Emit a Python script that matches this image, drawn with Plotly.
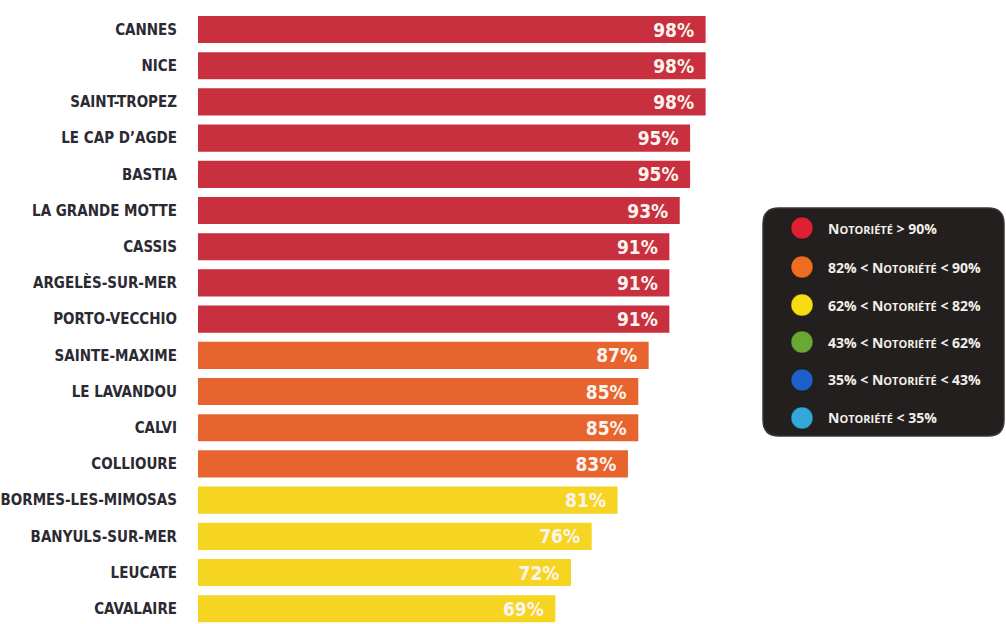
import plotly.graph_objects as go

# Notoriété des stations balnéaires
villes = ["CANNES", "NICE", "SAINT-TROPEZ", "LE CAP D’AGDE", "BASTIA", "LA GRANDE MOTTE",
          "CASSIS", "ARGELÈS-SUR-MER", "PORTO-VECCHIO", "SAINTE-MAXIME", "LE LAVANDOU",
          "CALVI", "COLLIOURE", "BORMES-LES-MIMOSAS", "BANYULS-SUR-MER", "LEUCATE", "CAVALAIRE"]
notoriete = [98, 98, 98, 95, 95, 93, 91, 91, 91, 87, 85, 85, 83, 81, 76, 72, 69]

SC = "<span style='font-size:11px'>OTORIÉTÉ</span>"
classes = [f"N{SC} > 90%",
           f"82% < N{SC} < 90%",
           f"62% < N{SC} < 82%",
           f"43% < N{SC} < 62%",
           f"35% < N{SC} < 43%",
           f"N{SC} < 35%"]
seuils = [90, 82, 62, 43, 35, 0]
couleurs_barres = ["#c8303f", "#e8642e", "#f6d422", "#6aa832", "#2064c6", "#36a9d6"]
couleurs_legende = ["#dc2232", "#ef6d22", "#f7dc12", "#6aa834", "#1e5fc8", "#33a8d8"]


def couleur(v):
    for s, c in zip(seuils, couleurs_barres):
        if v > s:
            return c
    return couleurs_barres[-1]


W, H = 1006, 624
ML = 198
PW = W - ML
PX_PER_PCT = 5.18
PITCH = 36.2
FIRST = 29.5
COND = "DejaVu Sans Condensed, DejaVu Sans, sans-serif"


def px(x):
    return (x - ML) / PW


def py(y):
    return 1 - y / H


fig = go.Figure()
fig.add_trace(go.Bar(
    x=notoriete, y=villes, orientation="h",
    marker=dict(color=[couleur(v) for v in notoriete], line=dict(width=0)),
    width=0.75,
    text=[f"{v}%\u2002" for v in notoriete],
    textposition="inside", insidetextanchor="end",
    textfont=dict(family=COND, size=19, color="#fbf4ee", weight="bold"),
    constraintext="none",
    hoverinfo="skip",
))

shapes = []
annotations = []

# Legend box: dark rounded rectangle
x0, x1, y0, y1, r = 763, 1004, 208, 436, 16
rx, ry = r / PW, r / H
X0, X1, Y0, Y1 = px(x0), px(x1), py(y0), py(y1)
path = (f"M {X0+rx},{Y0} L {X1-rx},{Y0} Q {X1},{Y0} {X1},{Y0-ry} "
        f"L {X1},{Y1+ry} Q {X1},{Y1} {X1-rx},{Y1} L {X0+rx},{Y1} "
        f"Q {X0},{Y1} {X0},{Y1+ry} L {X0},{Y0-ry} Q {X0},{Y0} {X0+rx},{Y0} Z")
shapes.append(dict(type="path", xref="paper", yref="paper", path=path,
                   fillcolor="#221f1e", line=dict(color="#3a3634", width=1.5), layer="above"))

rows = [228, 267, 305, 342, 380, 418]
for yy, lab, c in zip(rows, classes, couleurs_legende):
    rad = 11
    shapes.append(dict(type="circle", xref="paper", yref="paper",
                       x0=px(802 - rad), x1=px(802 + rad), y0=py(yy + rad), y1=py(yy - rad),
                       fillcolor=c, line=dict(color="rgba(0,0,0,0.35)", width=1), layer="above"))
    annotations.append(dict(xref="paper", yref="paper", x=px(826), y=py(yy),
                            xanchor="left", yanchor="middle", showarrow=False,
                            text=lab,
                            font=dict(family="Open Sans, sans-serif", size=14,
                                      color="#f2efe9", weight="bold")))

fig.update_layout(
    width=W, height=H,
    margin=dict(l=ML, r=0, t=0, b=0),
    paper_bgcolor="white", plot_bgcolor="white",
    showlegend=False,
    bargap=0.25,
    xaxis=dict(range=[0, PW / PX_PER_PCT], visible=False, fixedrange=True),
    yaxis=dict(
        range=[(H - FIRST) / PITCH, -FIRST / PITCH],
        showgrid=False, zeroline=False, showline=False,
        ticks="", ticklabelstandoff=20,
        tickfont=dict(family=COND, size=15, color="#2b2a33", weight="bold"),
    ),
    shapes=shapes,
    annotations=annotations,
)

fig.write_html("out.html")
